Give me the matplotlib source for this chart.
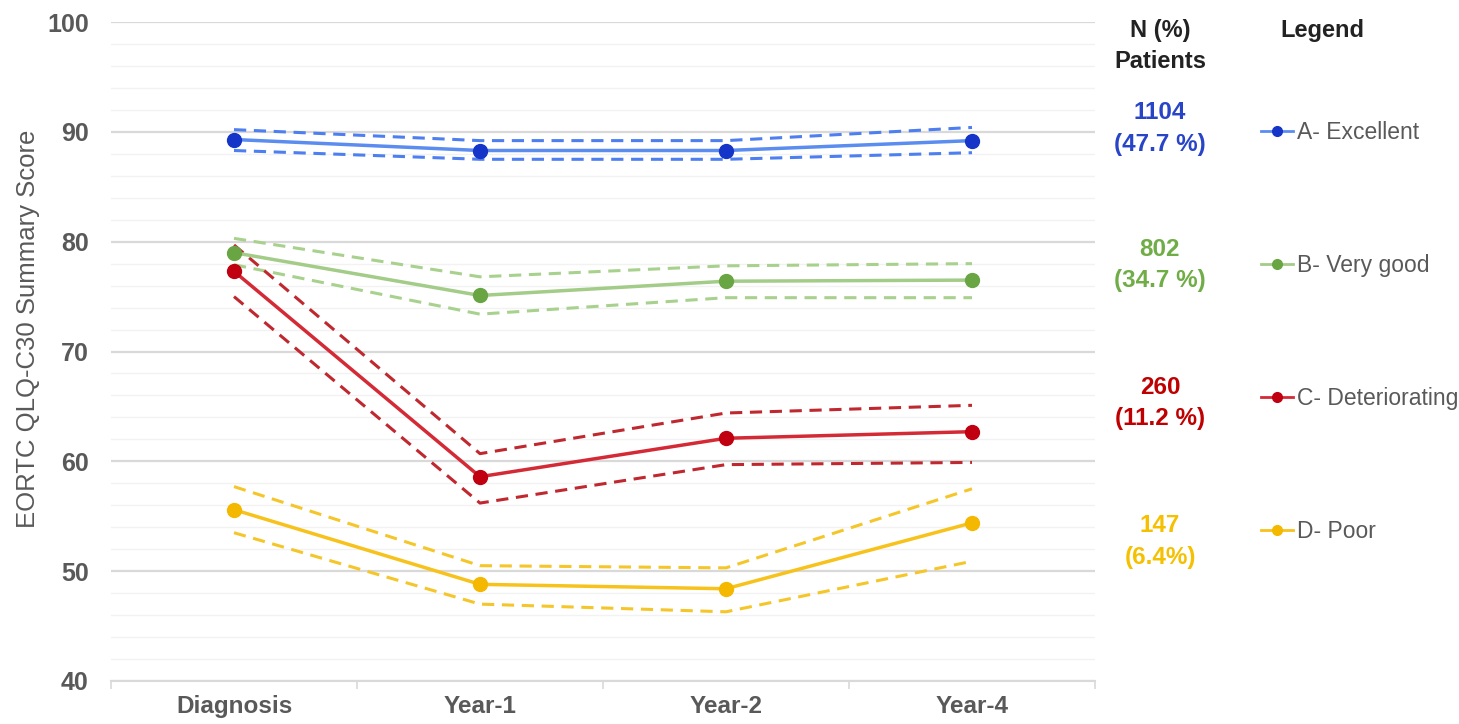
import numpy as np
import matplotlib.pyplot as plt
from matplotlib.lines import Line2D

plt.rcParams['font.family'] = ['Liberation Sans', 'DejaVu Sans']

timepoints = ["Diagnosis", "Year-1", "Year-2", "Year-4"]
groups = ["A- Excellent", "B- Very good", "C- Deteriorating", "D- Poor"]
n_counts = ["1104", "802", "260", "147"]
n_pcts = ["(47.7 %)", "(34.7 %)", "(11.2 %)", "(6.4%)"]

mean_a = [89.3, 88.3, 88.3, 89.2]
upper_a = [90.2, 89.2, 89.2, 90.4]
lower_a = [88.3, 87.5, 87.5, 88.1]

mean_b = [79.0, 75.1, 76.4, 76.5]
upper_b = [80.3, 76.8, 77.8, 78.0]
lower_b = [77.9, 73.4, 74.9, 74.9]

mean_c = [77.3, 58.6, 62.1, 62.7]
upper_c = [79.7, 60.7, 64.4, 65.1]
lower_c = [75.0, 56.2, 59.7, 59.9]

mean_d = [55.6, 48.8, 48.4, 54.4]
upper_d = [57.7, 50.5, 50.3, 57.5]
lower_d = [53.5, 47.0, 46.3, 50.9]

means = [mean_a, mean_b, mean_c, mean_d]
uppers = [upper_a, upper_b, upper_c, upper_d]
lowers = [lower_a, lower_b, lower_c, lower_d]

line_cols = ["#5b8cf0", "#a3cc88", "#d42a35", "#f7c21c"]
dash_cols = ["#4d7ff0", "#a9d18e", "#c0282f", "#f5c62a"]
dot_cols = ["#1535c8", "#6aa544", "#c00010", "#f5b800"]
text_cols = ["#2845c8", "#70ad47", "#c00000", "#f5c000"]
label_y = [90.3, 77.9, 65.3, 52.7]

fig = plt.figure(figsize=(14.59, 7.24), dpi=100)
ax = fig.add_axes([111 / 1459, 43 / 724, 984 / 1459, 659 / 724])

x = np.arange(len(timepoints))
for i in range(len(groups)):
    ax.plot(x, uppers[i], ls=(0, (4, 2.5)), color=dash_cols[i], lw=2.2, zorder=3)
    ax.plot(x, lowers[i], ls=(0, (4, 2.5)), color=dash_cols[i], lw=2.2, zorder=3)
    ax.plot(x, means[i], '-', color=line_cols[i], lw=2.5, zorder=4)
    ax.plot(x, means[i], 'o', color=dot_cols[i], ms=10, zorder=5)

ax.set_xlim(-0.5, len(timepoints) - 0.5)
ax.set_ylim(40, 100)
ax.set_yticks(np.arange(40, 101, 10))
ax.set_yticks(np.arange(40, 101, 2), minor=True)
ax.set_xticks(x)
ax.set_xticklabels(timepoints)
ax.set_xticks(np.arange(-0.5, len(timepoints)), minor=True)
ax.grid(axis='y', which='major', color='#d9d9d9', lw=1.6, zorder=0)
ax.grid(axis='y', which='minor', color='#f2f2f2', lw=1.0, zorder=0)
for s in ['top', 'right', 'left']:
    ax.spines[s].set_visible(False)
ax.spines['bottom'].set_color('#d9d9d9')
ax.spines['bottom'].set_linewidth(1.5)
ax.tick_params(axis='y', which='both', length=0, pad=16, labelsize=18, labelcolor='#595959')
ax.tick_params(axis='x', which='major', length=0, pad=10, labelsize=17.5, labelcolor='#595959')
ax.tick_params(axis='x', which='minor', length=6, color='#d9d9d9', width=1.2)
for lab in ax.get_xticklabels() + ax.get_yticklabels():
    lab.set_fontweight('bold')
fig.text(28 / 1459, 1 - 329 / 724, "EORTC QLQ-C30 Summary Score", rotation=90,
         ha='center', va='center', fontsize=18.5, color='#595959')

# N (%) column
trans = ax.get_yaxis_transform()
fig.text(1160 / 1459, 1 - 46 / 724, "N (%)\nPatients", ha='center', va='center',
         fontsize=17, fontweight='bold', color='#222222', linespacing=1.45)
for i in range(len(groups)):
    ax.text((1160 - 111) / 984, label_y[i], n_counts[i] + "\n" + n_pcts[i],
            transform=trans, ha='center', va='center', fontsize=17.5, fontweight='bold',
            color=text_cols[i], linespacing=1.45, clip_on=False)

# legend
fig.text(1322 / 1459, 1 - 30 / 724, "Legend", ha='center', va='center',
         fontsize=17, fontweight='bold', color='#222222')
handles = [Line2D([], [], color=line_cols[i], marker='o', mfc=dot_cols[i], mec=dot_cols[i],
                  ms=7, lw=2) for i in range(len(groups))]
leg = fig.legend(handles, groups, loc='upper left', bbox_to_anchor=(1240 / 1459, 1 - 100 / 724),
                 frameon=False, fontsize=16.5, handlelength=1.4, handletextpad=0.2,
                 labelspacing=4.8)
for t in leg.get_texts():
    t.set_color('#595959')

fig.savefig("out.png", dpi=100)
